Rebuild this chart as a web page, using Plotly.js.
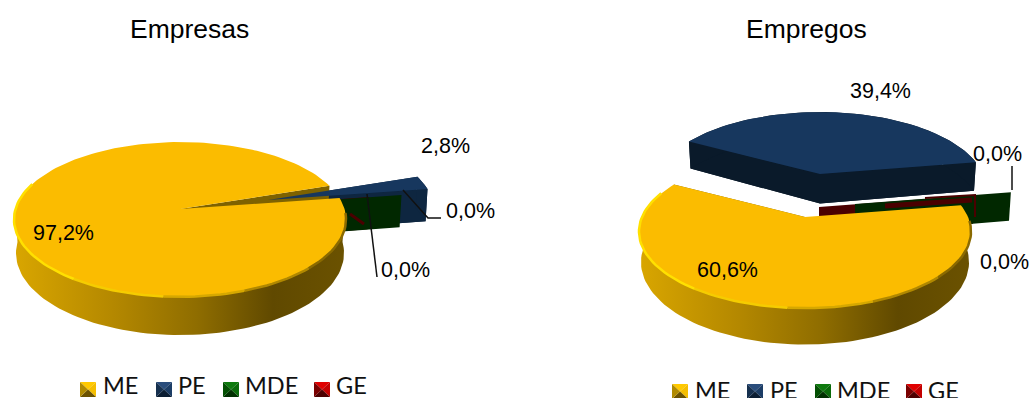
<!DOCTYPE html>
<html><head><meta charset="utf-8">
<script src="https://cdn.plot.ly/plotly-3.0.1.min.js"></script>
<style>html,body{margin:0;padding:0;background:#fff;overflow:hidden}#c{width:1029px;height:398px}</style>
</head><body><div id="c"></div>
<script>
// ---------- data ----------
const categories = ['ME','PE','MDE','GE'];
const empresas = [97.2,2.8,0,0];
const empregos = [60.6,39.4,0,0];
const chartTitles = ['Empresas','Empregos'];

// ---------- styles ----------
const topColors  = ['#FBBC00','#17375E','#012800','#4A0000'];
const wallColors = ['#7E6200','#0A1A2A','#012800','#4A0000'];
const wallGradient = [[0,'#D9A600'],[0.3,'#B48800'],[0.55,'#8F6D00'],[0.78,'#604900'],[1,'#6B5200']];
const rimSegments = [[-200,-125,'#FFE000'],[-125,-95,'#F5CC00'],[-95,-70,'#D6A800'],[-70,-45,'#B08800'],[-45,-3,'#8A6A00']];
const bevel = [ // top, right, bottom, left
  ['#FFC900','#F5BE00','#6B5200','#B08A00'],
  ['#2A4D7C','#1C3D66','#0C1E33','#16304F'],
  ['#0E7A0E','#0A6A0A','#013001','#035003'],
  ['#E00000','#C40000','#4D0000','#7A0000']];

// ---------- layout geometry ----------
const pies = [
  {values:empresas, ax:180, ay:209, R:164.5, H:76, p:0.135, D:33, start:8.5, peWall:'#0E2640',
   shift:[[0,0],[88,-9],[62,-3],[30,-1]], titleX:189.5,
   labelPos:[[63,233],[445,146],[405,270],[470,211]],
   leaders:[[[367,194],[377,277]],[[403,190],[428,218],[441,218]]],
   slivers:[{pts:[[350,214],[364,224]],w:3}],
   legendX:[[80,103],[156,178],[223,245],[314,336]], legendY:382, legendTextY:385},
  {values:empregos, ax:805, ay:217, R:163, H:73.8, p:0.19, D:29.5, start:9.5, peWall:'#0A1A2A',
   shift:[[0,0],[15,-43],[50,-13],[14,-10]], titleX:806.5,
   labelPos:[[727,270],[880,91],[1004,262],[997,154]],
   leaders:[[[1012,166],[1012,190]]],
   slivers:[{pts:[[885,206],[972,200]],w:5},{pts:[[925,198],[975,195],[975,217]],w:2}],
   legendX:[[672,695],[747,770],[815,837],[906,928]], legendY:384, legendTextY:390}
];

const traces = [];
function poly(pts, color, extra){
  traces.push(Object.assign({type:'scatter',mode:'lines',x:pts.map(q=>q[0]),y:pts.map(q=>q[1]),
    fill:'toself',fillcolor:color,line:{width:0,color:color},hoverinfo:'skip',showlegend:false},extra||{}));
}
function stroke(pts,color,w){
  traces.push({type:'scatter',mode:'lines',x:pts.map(q=>q[0]),y:pts.map(q=>q[1]),
    line:{width:w,color:color},hoverinfo:'skip',showlegend:false});
}
function project(g,deg,r,s,down){
  const t=deg*Math.PI/180,u=r*Math.cos(t),v=r*Math.sin(t),w=1+g.p*v;
  const k=down?0.988:1;
  return [g.ax+s[0]+k*g.R*u/w, g.ay+s[1]-g.H*v/w+(down?g.D/w:0)];
}
function arc(g,a0,a1,s,down){
  const n=Math.max(2,Math.ceil(Math.abs(a1-a0)/2)),o=[];
  for(let i=0;i<=n;i++)o.push(project(g,a0+(a1-a0)*i/n,1,s,down));
  return o;
}
const apex=(g,s,down)=>project(g,0,0,s,down);
function quad(a,b,c,d,col){poly([a,b,c,d,a],col);}

pies.forEach(g=>{
  const ang=[];let a=g.start;
  g.values.forEach(v=>{ang.push([a,a-v*3.6]);a-=v*3.6;});
  const [pA0,pA1]=ang[1], ps=g.shift[1];
  // PE solid: underside, cut faces, outer wall
  const under=[apex(g,ps,true),...arc(g,pA0,pA1,ps,true)];poly([...under,under[0]],g.peWall);
  [pA0,pA1].forEach(t=>quad(apex(g,ps,false),project(g,t,1,ps,false),project(g,t,1,ps,true),apex(g,ps,true),g.peWall));
  const o1=arc(g,pA0,pA1,ps,false),o2=arc(g,pA0,pA1,ps,true).reverse();poly([...o1,...o2,o1[0]],g.peWall);
  // zero-width GE and MDE slices: a single cut face each
  [3,2].forEach(i=>{const t=ang[i][0],s=g.shift[i];
    quad(apex(g,s,false),project(g,t,1,s,false),project(g,t,1,s,true),apex(g,s,true),wallColors[i]);});
  g.slivers.forEach(q=>stroke(q.pts,topColors[3],q.w));
  // ME solid
  const s0=g.shift[0];
  const f1=arc(g,0,-180,s0,false),f2=arc(g,0,-180,s0,true).reverse();
  poly([...f1,...f2,f1[0]],'#8F6D00',{fillgradient:{type:'horizontal',colorscale:wallGradient}});
  const e=ang[0][1];
  quad(apex(g,s0,false),project(g,e,1,s0,false),project(g,e,1,s0,true),apex(g,s0,true),wallColors[0]);
  const top=[apex(g,s0,false),...arc(g,ang[0][0],ang[0][1],s0,false)];poly([...top,top[0]],topColors[0]);
  // bevel along the front of the ME rim
  rimSegments.forEach(r=>stroke(arc(g,r[0],r[1],s0,false),r[2],2.5));
  // PE top
  const t2=[apex(g,ps,false),...arc(g,pA0,pA1,ps,false)];poly([...t2,t2[0]],topColors[1]);
  // leaders
  g.leaders.forEach(l=>stroke(l,'#111',1.5));
  // legend swatches
  categories.forEach((c,i)=>{
    const x=g.legendX[i][0],y=g.legendY,w=16,h=15,cx=x+w/2,cy=y+h/2;
    const corners=[[x,y],[x+w,y],[x+w,y+h],[x,y+h]];
    corners.forEach((k,j)=>{const n=corners[(j+1)%4];poly([k,n,[cx,cy],k],bevel[i][j]);});
  });
});

const ann=[];
pies.forEach((g,idx)=>{
  ann.push({x:g.titleX,y:29,xref:'x',yref:'y',text:chartTitles[idx],showarrow:false,xanchor:'center',yanchor:'middle',
    font:{family:'"Liberation Sans",Arial,sans-serif',size:26.5,color:'#000'}});
  g.values.forEach((v,i)=>ann.push({x:g.labelPos[i][0],y:g.labelPos[i][1],xref:'x',yref:'y',
    text:v.toFixed(1).replace('.',',')+'%',showarrow:false,xanchor:'center',yanchor:'middle',
    font:{family:'"Liberation Sans",Arial,sans-serif',size:21.5,color:'#000'}}));
  categories.forEach((c,i)=>ann.push({x:g.legendX[i][1],y:g.legendTextY,xref:'x',yref:'y',text:c,showarrow:false,
    xanchor:'left',yanchor:'middle',xshift:-2,font:{family:'Lato,sans-serif',size:23.5,color:'#111'}}));
});

Plotly.newPlot('c',traces,{
  width:1029,height:398,margin:{l:0,r:0,t:0,b:0},paper_bgcolor:'#fff',plot_bgcolor:'#fff',showlegend:false,
  xaxis:{range:[0,1029],visible:false,fixedrange:true},
  yaxis:{range:[398,0],visible:false,fixedrange:true},
  annotations:ann
},{displayModeBar:false,staticPlot:true});
</script></body></html>
